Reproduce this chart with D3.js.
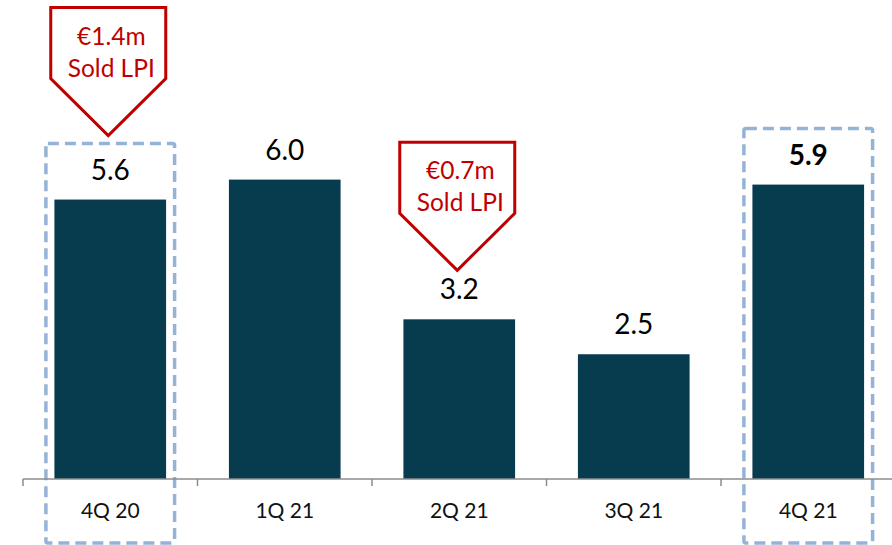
<!DOCTYPE html>
<html>
<head>
<meta charset="utf-8">
<script src="https://cdn.jsdelivr.net/npm/d3@7"></script>
<style>
  html, body { margin: 0; padding: 0; background: #fff; }
  svg { display: block; font-family: Lato, "Open Sans", sans-serif; }
</style>
</head>
<body>
<svg id="chart" width="892" height="545"></svg>
<script>
// ---- data ----
const categories = ["4Q 20", "1Q 21", "2Q 21", "3Q 21", "4Q 21"];
const values = [5.6, 6.0, 3.2, 2.5, 5.9];
const valueLabels = ["5.6", "6.0", "3.2", "2.5", "5.9"];
const highlighted = ["4Q 20", "4Q 21"];
const boldLabels = ["4Q 21"];
const calloutCategories = ["4Q 20", "2Q 21"];
const calloutLines = [["€1.4m", "Sold LPI"], ["€0.7m", "Sold LPI"]];

// ---- layout ----
const W = 892, H = 545;
const baseY = 479;
const svg = d3.select("#chart");

const x = d3.scaleBand().domain(categories).range([23, 895.5]).padding(0);
const y = d3.scaleLinear().domain([0, 9.6]).range([baseY, baseY - 9.6 * 49.9]);
const barFrac = 0.64;
const bw = x.bandwidth() * barFrac;
const cx = c => x(c) + x.bandwidth() / 2;
const valOf = c => values[categories.indexOf(c)];

// highlight dashed boxes (behind)
svg.append("g").selectAll("rect")
  .data(highlighted)
  .join("rect")
  .attr("x", c => cx(c) - bw / 2 - 8.5)
  .attr("width", bw + 17)
  .attr("y", c => y(valOf(c)) - 56)
  .attr("height", c => 543 - (y(valOf(c)) - 56))
  .attr("rx", 2)
  .attr("fill", "none")
  .attr("stroke", "#95B3D7")
  .attr("stroke-width", 3.5)
  .attr("stroke-dasharray", "11,6");

// bars
svg.append("g").selectAll("rect")
  .data(categories)
  .join("rect")
  .attr("x", c => cx(c) - bw / 2)
  .attr("width", bw)
  .attr("y", c => y(valOf(c)))
  .attr("height", c => baseY - y(valOf(c)))
  .attr("fill", "#073B4E");

// axis
const axis = d3.axisBottom(x).tickSize(0).tickFormat(d => d).tickPadding(0);
const gx = svg.append("g").attr("transform", `translate(0,${baseY})`).call(axis);
gx.select(".domain").remove();
gx.selectAll(".tick text")
  .attr("y", 39)
  .attr("dy", 0)
  .attr("font-size", 21)
  .attr("font-family", "Lato, sans-serif")
  .attr("fill", "#111");
svg.append("line")
  .attr("x1", 23).attr("x2", W)
  .attr("y1", baseY).attr("y2", baseY)
  .attr("stroke", "#8c8c8c").attr("stroke-width", 1.5);
const boundaries = categories.map(c => x(c));
svg.append("g").selectAll("line")
  .data(boundaries)
  .join("line")
  .attr("x1", d => d).attr("x2", d => d)
  .attr("y1", baseY).attr("y2", baseY + 7)
  .attr("stroke", "#8c8c8c").attr("stroke-width", 1.5);

// value labels
svg.append("g").selectAll("text")
  .data(categories)
  .join("text")
  .attr("x", c => cx(c))
  .attr("y", c => y(valOf(c)) - 20)
  .attr("text-anchor", "middle")
  .attr("font-size", 28)
  .attr("font-weight", c => boldLabels.includes(c) ? "bold" : "normal")
  .attr("fill", "#000")
  .text((c, i) => valueLabels[i]);

// callouts
const calloutTipOffset = [64, 49];
const cw = 115, shoulder = 71, tipH = 128;
const cg = svg.append("g").selectAll("g")
  .data(calloutCategories)
  .join("g")
  .attr("transform", (c, i) => {
    const tipY = y(valOf(c)) - calloutTipOffset[i];
    return `translate(${cx(c) - 2},${tipY - tipH})`;
  });
cg.append("path")
  .attr("d", `M${-cw/2},0 L${cw/2},0 L${cw/2},${shoulder} L0,${tipH} L${-cw/2},${shoulder} Z`)
  .attr("fill", "#fff")
  .attr("stroke", "#C00000")
  .attr("stroke-width", 3)
  .attr("stroke-linejoin", "miter");
cg.each(function(c, i) {
  const g = d3.select(this);
  calloutLines[i].forEach((t, j) => {
    g.append("text")
      .attr("x", 3)
      .attr("y", 37 + j * 32)
      .attr("text-anchor", "middle")
      .attr("font-size", 24.5)
      .attr("fill", "#C00000")
      .text(t);
  });
});
</script>
</body>
</html>
